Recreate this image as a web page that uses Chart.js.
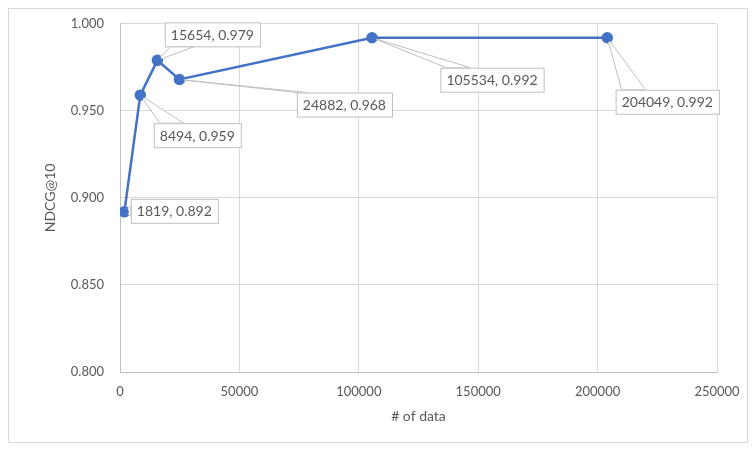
<!DOCTYPE html>
<html>
<head>
<meta charset="utf-8">
<script src="https://cdn.jsdelivr.net/npm/chart.js@4"></script>
<style>
  body { margin: 0; background: #fff; }
  #wrap { width: 756px; height: 451px; position: relative; }
</style>
</head>
<body>
<div id="wrap"><canvas id="ndcgChart"></canvas></div>
<script>
// data
const dataSizes = [1819, 8494, 15654, 24882, 105534, 204049];
const ndcgValues = [0.892, 0.959, 0.979, 0.968, 0.992, 0.992];
const yTicks = [0.800, 0.850, 0.900, 0.950, 1.000];
const xTicks = [0, 50000, 100000, 150000, 200000, 250000];

// where each callout box sits relative to its point (pixels, box centre)
const calloutOffsets = [[50, -1], [57, 40], [55, -26], [165, 25], [120, 42], [60, 64]];

const FONT = 'Lato, "Open Sans", sans-serif';

// draws the Excel style callout labels
const calloutPlugin = {
    id: 'callouts',
    afterDatasetsDraw(chart) {
        const ctx = chart.ctx;
        const meta = chart.getDatasetMeta(0);
        ctx.save();
        ctx.font = '14px ' + FONT;
        meta.data.forEach((pt, i) => {
            const text = dataSizes[i] + ', ' + ndcgValues[i].toFixed(3);
            const w = ctx.measureText(text).width + 12;
            const h = 24;
            const cx = pt.x + calloutOffsets[i][0];
            const cy = pt.y + calloutOffsets[i][1];
            const bx = cx - w / 2, by = cy - h / 2;

            // pointer wedge: attach to the box edge facing the point
            let a, b;
            const dx = pt.x - cx, dy = pt.y - cy;
            if (Math.abs(dx) / w > Math.abs(dy) / h) {
                const ex = dx < 0 ? bx : bx + w;
                a = [ex, cy - 5]; b = [ex, cy + 5];
                if (Math.abs(dy) > 6) {
                    const ey = dy < 0 ? by : by + h;
                    a = [ex, ey]; b = [ex + (dx < 0 ? 10 : -10), ey];
                }
            } else {
                const ey = dy < 0 ? by : by + h;
                if (dx < 0) { a = [bx + 6, ey]; b = [bx + 30, ey]; }
                else if (dx > w / 2) { a = [bx + w - 30, ey]; b = [bx + w - 6, ey]; }
                else { a = [cx - 18, ey]; b = [cx + 18, ey]; }
            }
            ctx.beginPath();
            ctx.moveTo(pt.x, pt.y);
            ctx.lineTo(a[0], a[1]);
            ctx.lineTo(b[0], b[1]);
            ctx.closePath();
            ctx.fillStyle = '#fff';
            ctx.fill();
            ctx.strokeStyle = '#bfbfbf';
            ctx.lineWidth = 1;
            ctx.stroke();

            ctx.fillStyle = '#fff';
            ctx.fillRect(bx, by, w, h);
            ctx.strokeRect(bx + 0.5, by + 0.5, w, h);

            ctx.fillStyle = '#595959';
            ctx.textAlign = 'center';
            ctx.textBaseline = 'middle';
            ctx.fillText(text, cx, cy + 1);
        });
        // redraw the points over the wedges
        meta.data.forEach(pt => {
            ctx.beginPath();
            ctx.arc(pt.x, pt.y, 4.5, 0, Math.PI * 2);
            ctx.fillStyle = '#4472C4';
            ctx.fill();
        });
        ctx.restore();
    },
    afterDraw(chart) {
        const ctx = chart.ctx;
        ctx.save();
        ctx.strokeStyle = '#d9d9d9';
        ctx.lineWidth = 1;
        ctx.strokeRect(8.5, 8.5, 739, 434);
        ctx.restore();
    }
};

const ctx = document.getElementById('ndcgChart').getContext('2d');
new Chart(ctx, {
    type: 'scatter',
    data: {
        datasets: [{
            data: dataSizes.map((x, i) => ({ x: x, y: ndcgValues[i] })),
            showLine: true,
            borderColor: '#4472C4',
            backgroundColor: '#4472C4',
            borderWidth: 2.5,
            pointRadius: 4.5,
            pointHoverRadius: 4.5
        }]
    },
    options: {
        responsive: true,
        maintainAspectRatio: false,
        animation: false,
        layout: { padding: { top: 20, right: 39, left: 38, bottom: 22 } },
        plugins: {
            legend: { display: false },
            tooltip: { enabled: false }
        },
        scales: {
            x: {
                type: 'linear',
                min: 0, max: 250000,
                afterBuildTicks: axis => { axis.ticks = xTicks.map(v => ({ value: v })); },
                afterFit: axis => { axis.height = 57; },
                grid: { color: '#d9d9d9', drawTicks: false },
                border: { color: '#bfbfbf' },
                ticks: { color: '#595959', padding: 12, font: { family: FONT, size: 13 }, maxRotation: 0,
                    callback: v => String(v) },
                title: { display: true, text: '# of data', color: '#595959', font: { family: FONT, size: 14 }, padding: { top: 0 } }
            },
            y: {
                min: 0.8, max: 1.0,
                afterBuildTicks: axis => { axis.ticks = yTicks.map(v => ({ value: v })); },
                afterFit: axis => { axis.width = 82; },
                grid: { color: '#d9d9d9', drawTicks: false },
                border: { color: '#bfbfbf' },
                ticks: { color: '#595959', padding: 16, font: { family: FONT, size: 13 },
                    callback: v => v.toFixed(3) },
                title: { display: true, text: 'NDCG@10', color: '#595959', font: { family: FONT, size: 14 }, padding: { bottom: 0 } }
            }
        }
    },
    plugins: [calloutPlugin]
});
</script>
</body>
</html>
